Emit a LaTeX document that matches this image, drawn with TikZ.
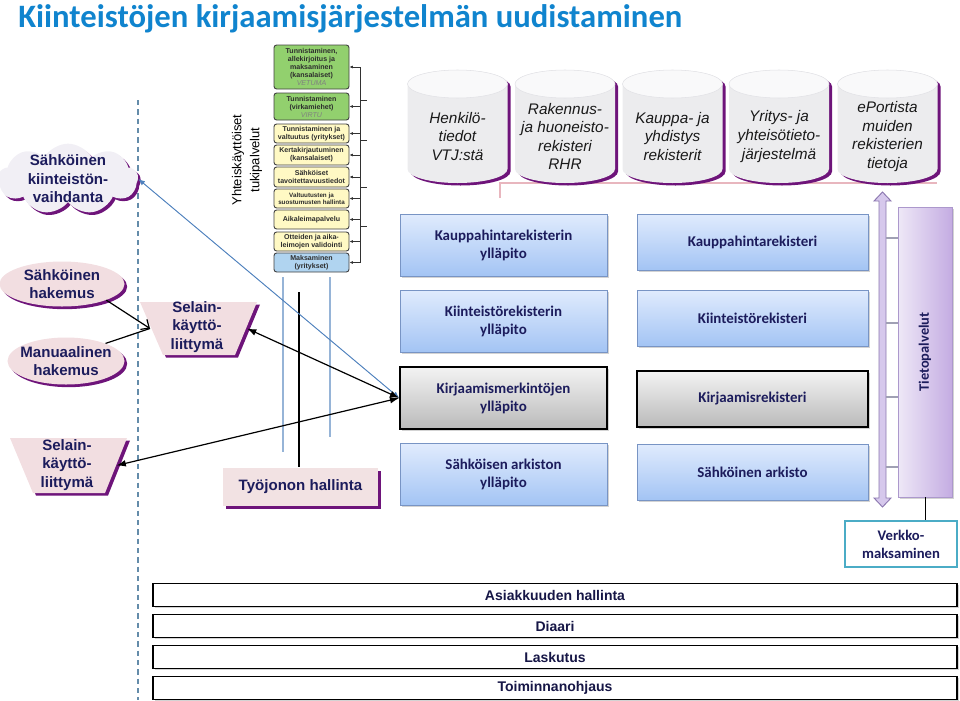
\documentclass[tikz,border=0pt]{standalone}
\usepackage{fontspec}
\setmainfont{Liberation Sans}
\newfontfamily\calibri{Carlito}
\usetikzlibrary{shapes.geometric,shapes.symbols,shadows,arrows.meta}

\begin{document}
\begin{tikzpicture}[x=0.75pt,y=0.75pt,yscale=-1,xscale=1,
    navy/.style={text={rgb,255:red,28;green,28;blue,92}},
    purpleshadow/.style={drop shadow={shadow xshift=2pt,shadow yshift=-2pt,opacity=1,fill={rgb,255:red,110;green,20;blue,122}}},
    greyshadow/.style={drop shadow={shadow xshift=1.2pt,shadow yshift=-1.2pt,opacity=0.35}},
    shadowfill/.style={fill={rgb,255:red,110;green,20;blue,122},shift={(3,2.5)}},
    pinkfill/.style={fill={rgb,255:red,242;green,222;blue,225},draw=none,purpleshadow},
    oval/.style={ellipse,pinkfill,inner sep=0pt},
    trapfill/.style={fill={rgb,255:red,242;green,222;blue,225}},
    boldlabel/.style={navy,font=\bfseries\fontsize{11.3}{13.8}\selectfont,align=center,inner sep=0pt},
    cylbody/.style={fill={rgb,255:red,236;green,236;blue,238}},
    cyltop/.style={fill={rgb,255:red,249;green,249;blue,250},draw={rgb,255:red,226;green,226;blue,230},line width=0.4pt},
    dbtext/.style={text={rgb,255:red,25;green,25;blue,25},font=\itshape\fontsize{11.5}{13.9}\selectfont,align=center,inner sep=0pt},
    regbox/.style={rectangle,draw={rgb,255:red,120;green,148;blue,196},line width=0.7pt,top color={rgb,255:red,224;green,235;blue,253},bottom color={rgb,255:red,163;green,196;blue,244},navy,font=\calibri\bfseries\fontsize{11.2}{13.5}\selectfont,align=center,greyshadow},
    maintbox/.style={regbox,minimum width=155.25pt,minimum height=46.5pt},
    databox/.style={regbox,minimum width=173.25pt,minimum height=42pt},
    greybox/.style={draw=black,line width=1.1pt,top color={rgb,255:red,243;green,243;blue,243},bottom color={rgb,255:red,186;green,186;blue,186}},
    svc/.style={rectangle,rounded corners=2pt,draw={rgb,255:red,64;green,64;blue,64},line width=0.7pt,minimum width=56.25pt,inner sep=0pt,align=center,text={rgb,255:red,45;green,45;blue,45},font=\bfseries\fontsize{5.3}{6}\selectfont},
    svcgreen/.style={svc,fill={rgb,255:red,146;green,208;blue,110}},
    svcyellow/.style={svc,fill={rgb,255:red,255;green,249;blue,196}},
    svcblue/.style={svc,fill={rgb,255:red,176;green,212;blue,240}},
    svcarrow/.style={-{Latex[length=2.5pt,width=2.2pt]},line width=0.5pt,draw={rgb,255:red,50;green,50;blue,50}},
    vline/.style={line width=1pt,draw={rgb,255:red,150;green,180;blue,215}},
    blackconn/.style={{Latex[length=7pt,width=5pt]}-{Latex[length=7pt,width=5pt]},line width=0.9pt},
    blueconn/.style={{Latex[length=5pt,width=4pt]}-{Latex[length=5pt,width=4pt]},line width=0.7pt,draw={rgb,255:red,79;green,129;blue,189},fill={rgb,255:red,79;green,129;blue,189}},
    barbox/.style={rectangle,draw=black,line width=1.1pt,fill=white,minimum width=603pt,minimum height=17.25pt,inner sep=0pt,text={rgb,255:red,22;green,22;blue,70},font=\bfseries\fontsize{10.5}{13}\selectfont,greyshadow}
]
%fix picture size to the slide
\useasboundingbox (0,0) rectangle (960,700);

% Text Node
\node[anchor=base west,inner sep=0pt,text={rgb,255:red,16;green,132;blue,206},font=\calibri\bfseries\fontsize{24.5}{28}\selectfont] (title) at (18,27) {Kiinteistöjen kirjaamisjärjestelmän uudistaminen};

%Shape: dashed border line
\draw[dash pattern=on 4pt off 3pt,line width=0.8pt,draw={rgb,255:red,100;green,140;blue,170}] (138,100) -- (138,700);

%Shape: Cloud
\node[cloud,cloud puffs=9,cloud puff arc=120,aspect=2.2,minimum width=105pt,minimum height=53pt,inner sep=0pt,fill={rgb,255:red,241;green,239;blue,245},draw=none,purpleshadow] (cloud) at (68,179) {};
% Text Node
\node[boldlabel] (cloudt) at (68,179) {Sähköinen\\kiinteistön-\\vaihdanta};

% Text Node
\node[rotate=90,align=center,inner sep=0pt,font=\fontsize{9.75}{13.5}\selectfont] (tukit) at (247,160) {Yhteiskäyttöiset\\tukipalvelut};

%Shape: support services
\node[svcgreen,minimum height=33pt] (s1) at (311.5,67) {Tunnistaminen,\\allekirjoitus ja\\maksaminen\\(kansalaiset)\\{\mdseries\itshape\color{gray}VETUMA}};
\node[svcgreen,minimum height=20.25pt] (s2) at (311.5,106.5) {Tunnistaminen\\(virkamiehet)\\{\mdseries\itshape\color{gray}VIRTU}};
\node[svcyellow,minimum height=14.25pt] (s3) at (311.5,133.5) {Tunnistaminen ja\\valtuutus (yritykset)};
\node[svcyellow,minimum height=15pt] (s4) at (311.5,155) {Kertakirjautuminen\\(kansalaiset)};
\node[svcyellow,minimum height=15pt] (s5) at (311.5,177) {Sähköiset\\tavoitettavuustiedot};
\node[svcyellow,minimum height=14.25pt,font=\bfseries\fontsize{4.7}{5.6}\selectfont] (s6) at (311.5,198.5) {Valtuutusten ja\\suostumusten hallinta};
\node[svcyellow,minimum height=14.25pt] (s7) at (311.5,219.5) {Aikaleimapalvelu};
\node[svcyellow,minimum height=14.25pt] (s8) at (311.5,241.5) {Otteiden ja aika-\\leimojen validointi};
\node[svcblue,minimum height=14.25pt] (s9) at (311.5,262.5) {Maksaminen\\(yritykset)};
\coordinate (brk) at (360,67);
\draw[line width=0.6pt,draw={rgb,255:red,50;green,50;blue,50}] (brk |- s1.east) -- (brk |- s9.east);
\foreach \s in {1,...,9}
  \draw[svcarrow] (s\s.east -| brk) -- (s\s.east);
\foreach \y in {100,140,187,226}
  \draw[line width=0.5pt,draw={rgb,255:red,50;green,50;blue,50}] (360,\y) -- (367,\y);

%Shape: lines below services
\draw[vline] (283,277) -- (283,452);
\draw[vline] (330,277) -- (330,437);
\draw[line width=1pt] (299,292) -- (299,467);

%Shape: pink bus line
\draw[line width=1.5pt,draw={rgb,255:red,232;green,182;blue,190}] (500,198) -- (500,183) -- (937,183);

%Shape: registers (cylinders)
\foreach \cx [count=\i] in {457.5,565,672.5,779,887.5}{
  \fill[shadowfill] (\cx-50,84) -- (\cx-50,169) arc[start angle=180,end angle=0,x radius=50,y radius=14] -- (\cx+50,84) arc[start angle=360,end angle=180,x radius=50,y radius=14] -- cycle;
  \fill[cylbody] (\cx-50,84) -- (\cx-50,169) arc[start angle=180,end angle=0,x radius=50,y radius=14] -- (\cx+50,84) arc[start angle=360,end angle=180,x radius=50,y radius=14] -- cycle;
  \draw[cyltop] (\cx,84) ellipse[x radius=50,y radius=14];
  \coordinate (rek\i) at (\cx,126.5);
}
% Text Node
\node[dbtext] (rek1t) at (457.5,136.5) {Henkilö-\\tiedot\\VTJ:stä};
\node[dbtext] (rek2t) at (565,136.5) {Rakennus-\\ja huoneisto-\\rekisteri\\RHR};
\node[dbtext] (rek3t) at (672.5,136.5) {Kauppa- ja\\yhdistys\\rekisterit};
\node[dbtext] (rek4t) at (779,136.5) {Yritys- ja\\yhteisötieto-\\järjestelmä};
\node[dbtext] (rek5t) at (887.5,136.5) {ePortista\\muiden\\rekisterien\\tietoja};

%Shape: Ellipses
\node[oval,minimum width=93.75pt,minimum height=33.75pt] (sh) at (62,284) {};
\node[boldlabel] (sht) at (62,284) {Sähköinen\\hakemus};
\node[oval,minimum width=87.75pt,minimum height=35.25pt] (mh) at (66,361) {};
\node[boldlabel] (mht) at (66,361) {Manuaalinen\\hakemus};

%Shape: Trapezoids
\fill[shadowfill] (140,302) -- (257,302) -- (235,355) -- (163,355) -- cycle;
\fill[trapfill] (140,302) -- (257,302) -- (235,355) -- (163,355) -- cycle;
\coordinate (sel1w) at (150,328.5);
\coordinate (sel1e) at (247,328.5);
\node[boldlabel] (sel1t) at (197,327) {Selain-\\käyttö-\\liittymä};
\fill[shadowfill] (10,438) -- (127,438) -- (105,493) -- (33,493) -- cycle;
\fill[trapfill] (10,438) -- (127,438) -- (105,493) -- (33,493) -- cycle;
\coordinate (sel2e) at (116.5,465.5);
\node[boldlabel] (sel2t) at (67,465) {Selain-\\käyttö-\\liittymä};

%Shape: Rectangle
\node[rectangle,pinkfill,minimum width=116.25pt,minimum height=28.5pt,boldlabel,fill={rgb,255:red,242;green,226;blue,227}] (tyo) at (300.5,487) {Työjonon hallinta};

%Shape: maintenance boxes
\node[maintbox] (kpy) at (503.5,245) {Kauppahintarekisterin\\ylläpito};
\node[maintbox] (kiy) at (503.5,321) {Kiinteistörekisterin\\ylläpito};
\node[maintbox,greybox] (kmy) at (503.5,398) {Kirjaamismerkintöjen\\ylläpito};
\node[maintbox] (say) at (503.5,474.5) {Sähköisen arkiston\\ylläpito};

%Shape: register boxes
\node[databox] (kpr) at (752.5,242) {Kauppahintarekisteri};
\node[databox] (kir) at (752.5,318) {Kiinteistörekisteri};
\node[databox,greybox] (kjr) at (752.5,399) {Kirjaamisrekisteri};
\node[databox] (sar) at (752.5,472) {Sähköinen arkisto};

%Shape: double arrow
\draw[line width=0.7pt,draw={rgb,255:red,140;green,120;blue,176},fill={rgb,255:red,214;green,200;blue,236}] (882.5,192) -- (891,201) -- (886,201) -- (886,498) -- (891,498) -- (882.5,507) -- (874,498) -- (879,498) -- (879,201) -- (874,201) -- cycle;
\foreach \y in {238,323,397,467}
  \draw[line width=0.8pt,draw={rgb,255:red,160;green,160;blue,180}] (886,\y) -- (898,\y);

%Shape: Tietopalvelut
\node[rectangle,draw={rgb,255:red,172;green,152;blue,204},line width=0.7pt,left color={rgb,255:red,238;green,232;blue,247},right color={rgb,255:red,196;green,172;blue,226},minimum width=40.5pt,minimum height=217.5pt,inner sep=0pt,greyshadow] (tp) at (925,352) {};
\node[rotate=90,navy,inner sep=0pt,font=\calibri\bfseries\fontsize{10.8}{13}\selectfont] (tpt) at (925,352) {Tietopalvelut};

%Shape: Verkkomaksaminen
\node[rectangle,draw={rgb,255:red,75;green,172;blue,198},line width=1.8pt,fill=white,minimum width=84pt,minimum height=34.5pt,inner sep=0pt,align=center,navy,font=\calibri\bfseries\fontsize{11}{13.5}\selectfont] (vm) at (901,544) {Verkko-\\maksaminen};
\draw[line width=0.7pt] (tp.south) -- (tp.south |- vm.north);

%Shape: bottom bars
\node[barbox] (asi) at (555,595) {Asiakkuuden hallinta};
\node[barbox] (dia) at (555,626) {Diaari};
\node[barbox] (las) at (555,657) {Laskutus};
\node[barbox] (toi) at (555,688) {Toiminnanohjaus};

% connectors
\draw[-{Straight Barb[length=5pt,width=9pt]},line width=0.9pt] (sh.-20) -- (sel1w);
\draw[line width=0.9pt] (mh.24) -- (sel1w);
\draw[blueconn] (cloud.east) -- (kmy.west);
\draw[blackconn] (sel1e) -- (kmy.west);
\draw[blackconn] (sel2e) -- (kmy.west);

\end{tikzpicture}
\end{document}
